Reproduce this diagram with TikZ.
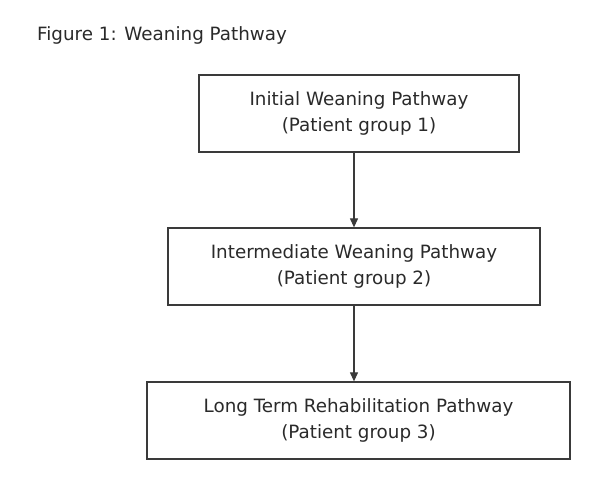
\documentclass[tikz,border=0pt]{standalone}
\usepackage{fontspec}
\setmainfont{DejaVu Sans}
\usetikzlibrary{arrows.meta,calc}
\definecolor{inkc}{HTML}{2A2A2A}
\definecolor{linec}{HTML}{3A3A3A}
\begin{document}
\begin{tikzpicture}[x=1pt,y=-1pt,
  pathbox/.style={draw=linec,line width=1.3pt,rectangle,minimum height=77pt,
    align=center,text=inkc,inner sep=0pt,
    font=\fontsize{18.3}{25.5}\selectfont},
  flowarrow/.style={draw=linec,line width=1.1pt,-{Triangle[length=9pt,width=8pt]}}]
\useasboundingbox (0,0) rectangle (600,488);
\fill[white] (0,0) rectangle (600,488);
\node[anchor=base west,text=inkc,inner sep=0pt,font=\fontsize{18.3}{25.5}\selectfont] (title) at (37,40) {Figure 1: Weaning Pathway};
\node[pathbox,minimum width=320pt] (b1) at (359,113.5) {Initial Weaning Pathway\\(Patient group 1)};
\node[pathbox,minimum width=372pt] (b2) at (354,266.5) {Intermediate Weaning Pathway\\(Patient group 2)};
\node[pathbox,minimum width=423pt] (b3) at (358.5,420.5) {Long Term Rehabilitation Pathway\\(Patient group 3)};
\draw[flowarrow] (b2.north |- b1.south) -- (b2.north);
\draw[flowarrow] (b2.south) -- (b2.south |- b3.north);
\end{tikzpicture}
\end{document}
